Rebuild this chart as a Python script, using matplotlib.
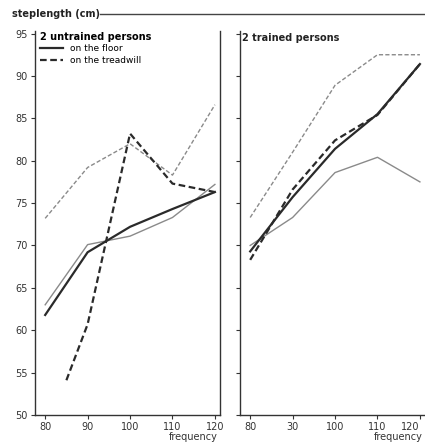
import matplotlib
matplotlib.use("Agg")
import matplotlib.pyplot as plt
from matplotlib.lines import Line2D

# frequency (steps/min)
freq = [80, 90, 100, 110, 120]
freq_tread_untr2 = [85, 90, 100, 110, 120]

# untrained persons
untr_floor_1 = [63.0, 70.1, 71.1, 73.3, 77.2]
untr_floor_2 = [61.8, 69.2, 72.2, 74.3, 76.3]
untr_tread_1 = [73.2, 79.2, 82.0, 78.3, 86.6]
untr_tread_2 = [54.1, 60.7, 83.2, 77.3, 76.3]

# trained persons
tr_floor_1 = [70.0, 73.3, 78.6, 80.4, 77.5]
tr_floor_2 = [69.3, 75.7, 81.4, 85.5, 91.4]
tr_tread_1 = [73.3, 81.0, 88.9, 92.5, 92.5]
tr_tread_2 = [68.3, 76.6, 82.4, 85.4, 91.4]

yticks = [50, 55, 60, 65, 70, 75, 80, 85, 90, 95]
xticks = [80, 90, 100, 110, 120]
xticklabels_l = ["80", "90", "100", "110", "120"]
xticklabels_r = ["80", "30", "100", "110", "120"]

plt.rcParams['font.family'] = ['DejaVu Sans']
fig = plt.figure(figsize=(4.25, 4.43), dpi=100)

thin = dict(color="#8a8a8a", lw=1.0)
thick = dict(color="#2a2a2a", lw=1.6)
dash = (0, (3, 1.6))

axL = fig.add_axes([35/425, 1-415/443, 185/425, 384/443])
axR = fig.add_axes([240/425, 1-415/443, 185/425, 384/443])

axL.plot(freq, untr_floor_1, **thin)
axL.plot(freq, untr_floor_2, **thick)
axL.plot(freq, untr_tread_1, ls=dash, **thin)
axL.plot(freq_tread_untr2, untr_tread_2, ls=dash, **thick)

axR.plot(freq, tr_floor_1, **thin)
axR.plot(freq, tr_floor_2, **thick)
axR.plot(freq, tr_tread_1, ls=dash, **thin)
axR.plot(freq, tr_tread_2, ls=dash, **thick)

for ax in (axL, axR):
    ax.set_xlim(77.6, 121.2)
    ax.set_ylim(50, 95.3)
    ax.set_yticks(yticks)
    ax.set_xticks(xticks)
    ax.spines['top'].set_visible(False)
    for s in ax.spines.values():
        s.set_color("#333333")
        s.set_linewidth(1.0)
    ax.tick_params(length=3, width=0.8, colors="#333333", labelsize=7, pad=2)
    ax.set_facecolor("none")
    ax.text(0.985, -0.043, "frequency", transform=ax.transAxes, ha="right",
            va="top", fontsize=7, color="#333333")

axL.set_xticklabels(xticklabels_l)
axR.set_xticklabels(xticklabels_r)
axR.set_yticklabels([])
axR.spines['right'].set_visible(False)
axR.get_xticklabels()[-1].set_horizontalalignment("right")

leg_handles = [Line2D([], [], **thick), Line2D([], [], ls=dash, **thick)]
leg = axL.legend(leg_handles, ["on the floor", "on the treadwill"],
                 title="2 untrained persons", loc="upper left",
                 frameon=False, fontsize=6.5, title_fontsize=7,
                 handlelength=2.6, borderaxespad=0.1, labelspacing=0.3,
                 bbox_to_anchor=(0.0, 1.01))
leg._legend_box.align = "left"
leg.get_title().set_fontweight("bold")

axR.text(0.01, 0.995, "2 trained persons", transform=axR.transAxes,
         ha="left", va="top", fontsize=7, fontweight="bold", color="#222222")

fig.text(12/425, 1-14/443, "steplength (cm)", ha="left", va="center",
         fontsize=7, fontweight="bold", color="#222222")
fig.add_artist(Line2D([100/425, 1.0], [1-14/443, 1-14/443],
                      transform=fig.transFigure, color="#444444", lw=1.0))

fig.savefig("out.png", dpi=100, facecolor="white")
